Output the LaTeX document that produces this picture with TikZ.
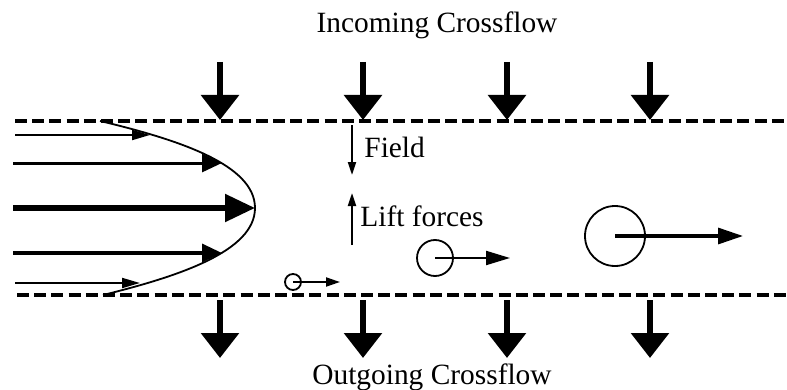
\documentclass[tikz,border=0pt]{standalone}
\usepackage{fontspec}
\setmainfont{Liberation Serif}
\usetikzlibrary{arrows.meta}
\begin{document}
\begin{tikzpicture}[x=0.5pt,y=-0.5pt,
  wall/.style={line width=1.7pt,dash pattern=on 6pt off 2.6pt},
  crossarrow/.style={line width=3pt,-{Triangle[length=12.5pt,width=18.5pt]}},
  label/.style={font=\fontsize{14.7}{17}\selectfont,inner sep=0pt},
  thinarrow/.style={line width=1pt,-{Triangle[length=6.5pt,width=4pt]}},
  particle/.style={line width=0.9pt}]
\useasboundingbox (0,0) rectangle (787,390);

% channel walls
\coordinate (tl) at (15,121);
\coordinate (tr) at (787,121);
\coordinate (bl) at (17,295);
\coordinate (br) at (787,295);
\draw[wall] (tl) -- (tr);
\draw[wall] (bl) -- (br);

% crossflow arrows
\foreach \x [count=\i] in {220,363,507,650}{
  \coordinate (in\i) at (\x,62);
  \coordinate (inw\i) at (\x,120);
  \draw[crossarrow] (in\i) -- (inw\i);
  \coordinate (out\i) at (\x,300);
  \coordinate (outw\i) at (\x,358);
  \draw[crossarrow] (out\i) -- (outw\i);
}
\node[label] (incoming) at (437,25) {Incoming Crossflow};
\node[label] (outgoing) at (432,377) {Outgoing Crossflow};

% velocity profile
\draw[line width=0.9pt] (100,121) .. controls (180,140) and (255,165) .. (255,208)
  .. controls (255,251) and (180,276) .. (103,295);
\coordinate (v1s) at (15,135);  \coordinate (v1e) at (150,135);
\coordinate (v2s) at (13,163);  \coordinate (v2e) at (222,163);
\coordinate (v3s) at (13,208);  \coordinate (v3e) at (255,208);
\coordinate (v4s) at (13,253);  \coordinate (v4e) at (222,253);
\coordinate (v5s) at (15,283);  \coordinate (v5e) at (140,283);
\draw[line width=1pt,-{Triangle[length=9pt,width=5pt]}] (v1s) -- (v1e);
\draw[line width=1.5pt,-{Triangle[length=10pt,width=9pt]}] (v2s) -- (v2e);
\draw[line width=2.6pt,-{Triangle[length=15pt,width=13.5pt]}] (v3s) -- (v3e);
\draw[line width=1.7pt,-{Triangle[length=10pt,width=9pt]}] (v4s) -- (v4e);
\draw[line width=1pt,-{Triangle[length=9pt,width=5pt]}] (v5s) -- (v5e);

% field and lift forces
\coordinate (fs) at (352,125); \coordinate (fe) at (352,175);
\draw[thinarrow] (fs) -- (fe);
\node[label,anchor=west] (field) at (364,147) {Field};
\coordinate (ls) at (352,245); \coordinate (le) at (352,193);
\draw[thinarrow] (ls) -- (le);
\node[label,anchor=west] (lift) at (360,216) {Lift forces};

% particles with their velocities
\node[particle,draw,circle,minimum size=8pt,inner sep=0pt] (p1) at (293,282) {};
\coordinate (p1v) at (340,282);
\draw[line width=1pt,-{Triangle[length=7pt,width=4.5pt]}] (p1.center) -- (p1v);
\node[particle,draw,circle,minimum size=18pt,inner sep=0pt] (p2) at (435,258) {};
\coordinate (p2v) at (510,258);
\draw[line width=1.1pt,-{Triangle[length=12pt,width=7pt]}] (p2.center) -- (p2v);
\node[particle,draw,circle,minimum size=30pt,inner sep=0pt] (p3) at (615,236) {};
\coordinate (p3v) at (743,236);
\draw[line width=1.6pt,-{Triangle[length=12.5pt,width=8pt]}] (p3.center) -- (p3v);
\end{tikzpicture}
\end{document}
